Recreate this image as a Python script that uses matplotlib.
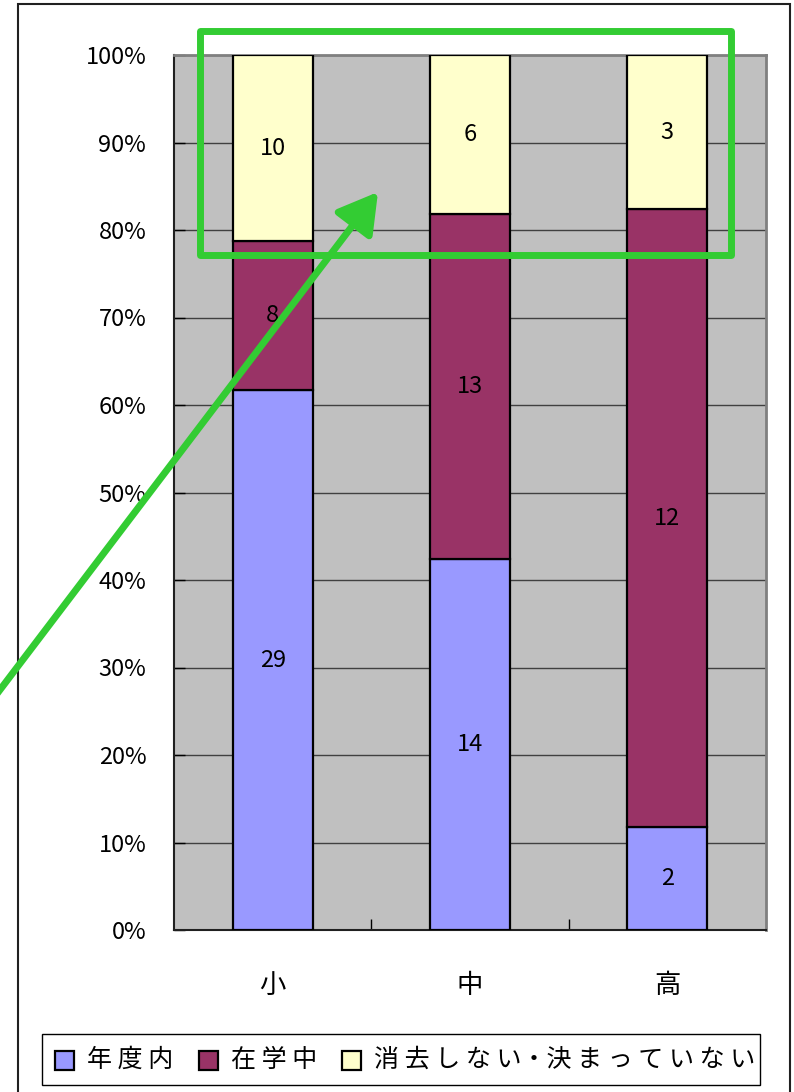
import numpy as np
import matplotlib
matplotlib.use("Agg")
import matplotlib.pyplot as plt
from matplotlib.patches import Rectangle, FancyArrowPatch

plt.rcParams['font.family'] = ['Noto Sans CJK JP', 'DejaVu Sans']

# 区分ごとの人数
categories = ['小', '中', '高']
series_names = ['年度内', '在学中', '消去しない・決まっていない']
counts_nendo = [29, 14, 2]
counts_zaigaku = [8, 13, 12]
counts_other = [10, 6, 3]
colors = ['#9999FF', '#993366', '#FFFFCC']
y_ticks = [0, 10, 20, 30, 40, 50, 60, 70, 80, 90, 100]

W, H = 794, 1092
fig = plt.figure(figsize=(W / 100, H / 100), dpi=100)


def fx(px):
    return px / W


def fy(py):
    return 1 - py / H


ax = fig.add_axes([fx(174), fy(930), fx(766) - fx(174), fy(55) - fy(930)])
ax.set_facecolor('#C0C0C0')

series = [counts_nendo, counts_zaigaku, counts_other]
totals = np.sum(series, axis=0)
x = np.arange(len(categories))
bottom = np.zeros(len(categories))
for vals, col in zip(series, colors):
    share = np.array(vals) / totals
    ax.bar(x, share, 0.405, bottom=bottom, color=col, edgecolor='black',
           linewidth=1.6, zorder=3)
    for xi, b, s, v in zip(x, bottom, share, vals):
        ax.text(xi, b + s / 2, str(v), ha='center', va='center',
                fontsize=17, zorder=4)
    bottom += share

ax.set_xlim(-0.5, 2.5)
ax.set_ylim(0, 1)
ax.set_yticks(np.array(y_ticks) / 100)
ax.set_yticklabels([f'{t}%' for t in y_ticks], fontsize=17)
ax.yaxis.grid(True, color='#404040', linewidth=1.0, zorder=1)
ax.set_axisbelow(True)
ax.tick_params(axis='y', direction='in', length=8, width=1, pad=20)

ax.set_xticks(x)
ax.set_xticklabels(categories, fontsize=19)
ax.set_xticks([0.5, 1.5], minor=True)
ax.tick_params(axis='x', which='major', length=0, pad=30)
ax.tick_params(axis='x', which='minor', direction='in', length=8, width=1)

for side in ['left', 'bottom']:
    ax.spines[side].set_color('#202020')
    ax.spines[side].set_linewidth(1.5)
for side in ['top', 'right']:
    ax.spines[side].set_color('#808080')
    ax.spines[side].set_linewidth(2)

# 外枠
fig.add_artist(Rectangle((fx(18), fy(1100)), fx(790) - fx(18), fy(4) - fy(1100),
                         transform=fig.transFigure, fill=False,
                         edgecolor='#202020', linewidth=1.5))

# 凡例
fig.add_artist(Rectangle((fx(42), fy(1085)), fx(760) - fx(42), fy(1034) - fy(1085),
                         transform=fig.transFigure, facecolor='white',
                         edgecolor='black', linewidth=1))
legend_x = [55, 199, 342]
for lx, name, col in zip(legend_x, series_names, colors):
    fig.add_artist(Rectangle((fx(lx), fy(1070)), fx(19), 19 / H,
                             transform=fig.transFigure, facecolor=col,
                             edgecolor='black', linewidth=1.6))
    spaced = ' '.join(name).replace(' ・ ', '・')
    fig.text(fx(lx + 32), fy(1060), spaced, fontsize=18, ha='left', va='center')

# 強調の枠と矢印
green = '#33CC33'
fig.add_artist(Rectangle((fx(200), fy(255)), fx(731) - fx(200), fy(31) - fy(255),
                         transform=fig.transFigure, fill=False,
                         edgecolor=green, linewidth=5, joinstyle='round', zorder=10))
fig.add_artist(FancyArrowPatch((fx(-10), fy(703)), (fx(378), fy(192)),
                               transform=fig.transFigure,
                               arrowstyle='-|>,head_length=1.2,head_width=0.7',
                               mutation_scale=20, color=green, linewidth=5,
                               shrinkA=0, shrinkB=0, zorder=10))

fig.savefig('out.png', dpi=100)
